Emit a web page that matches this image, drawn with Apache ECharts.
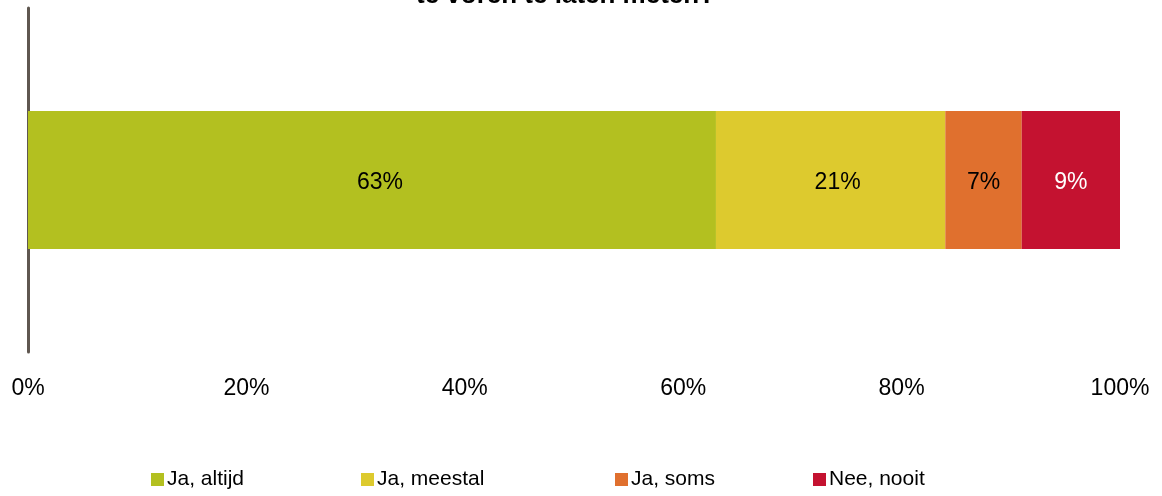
<!DOCTYPE html>
<html>
<head>
<meta charset="utf-8">
<script src="https://cdn.jsdelivr.net/npm/echarts@6/dist/echarts.min.js"></script>
<style>html,body{margin:0;padding:0;background:#fff}#c{width:1162px;height:496px}</style>
</head>
<body>
<div id="c"></div>
<script>
const titleText = 'te voren te laten meten?';
const categories = [''];
const seriesNames = ['Ja, altijd', 'Ja, meestal', 'Ja, soms', 'Nee, nooit'];
const seriesValues = [[63], [21], [7], [9]];
const seriesColors = ['#b3c020', '#ddca2e', '#e0702e', '#c41230'];
const labelColors = ['#000', '#000', '#000', '#fff'];
const labelOffsets = [[8, 3], [7, 3], [0, 3], [0, 3]];
const xTicks = [0, 20, 40, 60, 80, 100];
const legendLefts = [146, 356, 610, 808];

const chart = echarts.init(document.getElementById('c'));
const font = 'Liberation Sans, Arial, sans-serif';
chart.setOption({
  animation: false,
  title: {
    text: titleText,
    left: 411,
    top: -22,
    textStyle: { fontFamily: font, fontWeight: 'bold', fontSize: 26, color: '#000' }
  },
  legend: seriesNames.map((n, i) => ({
    data: [n],
    left: legendLefts[i],
    top: 464,
    itemWidth: 13,
    itemHeight: 13,
    itemGap: 4,
    icon: 'rect',
    textStyle: { fontFamily: font, fontSize: 21, color: '#000', padding: [0, 0, 0, -2] }
  })),
  grid: { left: 28, right: 42, top: 8, bottom: 144 },
  xAxis: {
    type: 'value',
    min: xTicks[0], max: xTicks[xTicks.length - 1], interval: 20,
    axisLine: { show: false },
    axisTick: { show: false },
    splitLine: { show: false },
    axisLabel: { fontFamily: font, fontSize: 23, color: '#000', margin: 25, formatter: v => v + '%' }
  },
  yAxis: {
    type: 'category',
    data: categories,
    axisLine: { show: true, lineStyle: { color: '#5f5750', width: 3 } },
    axisTick: { show: false },
    axisLabel: { show: false }
  },
  series: seriesNames.map((n, i) => ({
    name: n,
    type: 'bar',
    stack: 'total',
    barWidth: 138,
    data: seriesValues[i],
    itemStyle: { color: seriesColors[i] },
    label: {
      show: true,
      position: 'inside',
      offset: labelOffsets[i],
      formatter: p => p.value + '%',
      fontFamily: font,
      fontSize: 23,
      color: labelColors[i]
    }
  }))
});
</script>
</body>
</html>
